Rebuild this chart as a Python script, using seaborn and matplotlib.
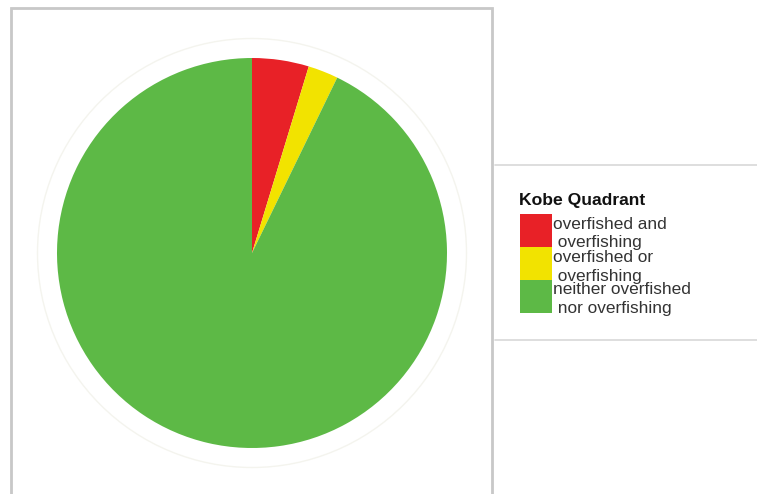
import matplotlib
matplotlib.use("Agg")
import matplotlib.pyplot as plt
import seaborn as sns
from matplotlib.patches import Rectangle, Circle
from matplotlib.lines import Line2D

sns.set_style("white")
plt.rcParams['font.family'] = ['Liberation Sans', 'DejaVu Sans']

# --- data ---
quadrants = ["overfished and\n overfishing", "overfished or\n overfishing",
             "neither overfished\n nor overfishing"]
shares = [4.7, 2.5, 92.8]
colors = ["#E82127", "#F2E300", "#5DB946"]
legend_title = "Kobe Quadrant"

fig = plt.figure(figsize=(7.57, 4.94), dpi=100)
W, H = 757, 494


def fx(px):
    return px / W


def fy(py):
    return 1 - py / H


# panel frames
fig.patches.append(Rectangle((fx(11), -0.05), (492 - 11) / W, (494 - 8) / H + 0.05,
                             transform=fig.transFigure, fill=False,
                             edgecolor="#c8c8c8", lw=2))
for yy in (165, 340):
    fig.add_artist(Line2D([fx(495), 1], [fy(yy), fy(yy)],
                          transform=fig.transFigure, color="#d8d8d8", lw=1.2))

# pie
ax = fig.add_axes([fx(252 - 195), (241 - 195) / H, 390 / W, 390 / H])
wedges, _ = ax.pie(shares, colors=colors, startangle=90, counterclock=False,
                   radius=1.0, wedgeprops=dict(linewidth=0))
ring = Circle((0, 0), 1.1, fill=False, edgecolor="#f4f4ee", lw=1)
ring.set_clip_on(False)
ax.add_patch(ring)
ax.set_xlim(-1.0, 1.0)
ax.set_ylim(-1.0, 1.0)
ax.set_aspect("equal")
ax.axis("off")

# legend, laid out by hand (tall swatches touching each other)
fig.text(fx(519), fy(201), legend_title, fontsize=12.6, fontweight="bold",
         va="center", ha="left", color="#111111")
top, step = 214, 33
for i, (lab, col) in enumerate(zip(quadrants, colors)):
    y0 = top + i * step
    fig.patches.append(Rectangle((fx(520), fy(y0 + step)), 32 / W, step / H,
                                 transform=fig.transFigure, facecolor=col,
                                 edgecolor="none"))
    for j, line in enumerate(lab.split("\n")):
        fig.text(fx(553), fy(y0 + 10 + 19 * j), line, fontsize=12.4,
                 va="center", ha="left", color="#333333")

fig.savefig("out.png", dpi=100)
